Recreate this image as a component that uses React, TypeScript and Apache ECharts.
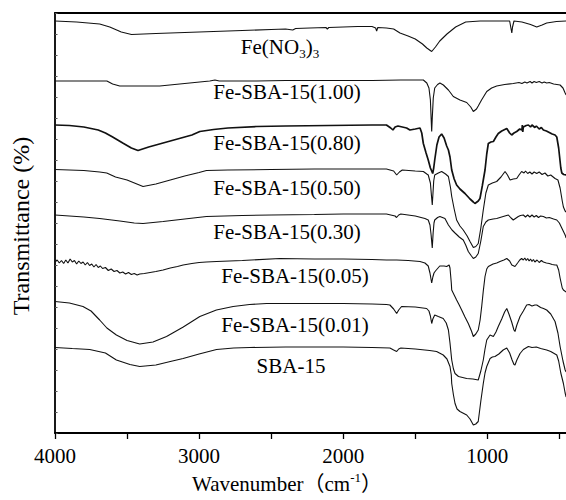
import React, { useEffect, useRef } from "react";
import * as echarts from "echarts";

const FONT = "'Liberation Serif', 'Times New Roman', serif";
const FONT_CJK = "'Liberation Serif', 'Noto Sans CJK SC', serif";

// axis ticks (wavenumber, cm-1)
const xTickLabels = [4000, 3000, 2000, 1000];
const xTicks = [4000, 3500, 3000, 2500, 2000, 1500, 1000, 500];

const seriesNames = [
  "Fe(NO3)3",
  "Fe-SBA-15(1.00)",
  "Fe-SBA-15(0.80)",
  "Fe-SBA-15(0.50)",
  "Fe-SBA-15(0.30)",
  "Fe-SBA-15(0.05)",
  "Fe-SBA-15(0.01)",
  "SBA-15",
];

// [wavenumber, transmittance (offset, arbitrary units)]
const feNO3 = [
  [4000, 412], [3850, 411], [3690, 409], [3620, 406], [3540, 401], [3469, 398.5], [3300, 399.5],
  [3100, 400.5], [2900, 401.5], [2700, 402.5], [2500, 403.5], [2400, 404], [2350, 403], [2330, 404.5],
  [2231, 405], [2120, 405.5], [2110, 404], [2100, 405.5], [1900, 406.5], [1800, 406.5], [1775, 405],
  [1768, 402], [1760, 405.5], [1700, 405], [1650, 404], [1606, 400], [1550, 397], [1500, 394],
  [1450, 389], [1420, 385], [1386, 381.5], [1360, 386], [1330, 392], [1280, 399], [1220, 406],
  [1150, 411], [1050, 412], [900, 412], [845, 412], [835, 404], [830, 400], [825, 406], [815, 412],
  [760, 411], [700, 408.5], [657, 406], [620, 408], [588, 410], [520, 411.5], [453, 412],
];

const fe100 = [
  [4000, 352], [3800, 352], [3640, 352], [3600, 349], [3551, 347], [3400, 347], [3273, 347],
  [3100, 349.5], [2926, 352], [2890, 353], [2860, 352], [2600, 352], [2400, 352.5], [2000, 352.5],
  [1800, 352.5], [1600, 353], [1444, 353], [1420, 350], [1405, 345], [1395, 333], [1390, 315],
  [1386, 301.5], [1382, 315], [1375, 335], [1365, 345], [1345, 348.5], [1329, 350], [1305, 348],
  [1270, 343], [1236, 336.5], [1190, 333], [1143, 330.5], [1115, 326], [1097, 321.5], [1075, 324],
  [1063, 327], [1040, 333], [1004, 341.5], [970, 345], [935, 347], [880, 348.5], [820, 349.5],
  [780, 350.5], [760, 349.5], [740, 351], [725, 350], [703, 351.5], [690, 350], [675, 351.5],
  [660, 350.5], [640, 351.5], [620, 350], [605, 351], [588, 350], [570, 350.5], [540, 349],
  [495, 348], [475, 345], [460, 340], [453, 338],
];

const fe080 = [
  [4000, 308], [3900, 307.5], [3800, 306], [3700, 303], [3650, 300], [3600, 296], [3530, 290],
  [3470, 285], [3424, 282.5], [3350, 286], [3250, 290], [3150, 294], [3050, 298], [2995, 301.5],
  [2900, 303.5], [2800, 305], [2600, 306.5], [2400, 307], [2100, 307.5], [1800, 308], [1700, 308],
  [1670, 305], [1655, 303], [1640, 306], [1620, 307], [1560, 305], [1537, 303], [1500, 304],
  [1467, 305], [1455, 300], [1444, 289.5], [1425, 280], [1410, 273], [1395, 265], [1386, 262],
  [1379, 259.5], [1372, 265], [1365, 273], [1350, 288], [1335, 296], [1317, 299], [1300, 295],
  [1282, 287], [1270, 283], [1259, 276], [1247, 263], [1230, 254], [1213, 248], [1190, 244],
  [1155, 239.5], [1120, 234], [1097, 231], [1086, 229.5], [1063, 232], [1051, 234.5], [1035, 247],
  [1016, 263], [1004, 279], [993, 289.5], [975, 291], [958, 291.5], [940, 296], [924, 299.5],
  [900, 302], [865, 304.5], [845, 300], [831, 298], [815, 300], [796, 301.5], [775, 304],
  [760, 303], [757, 308], [754, 301], [750, 306], [730, 307.5], [715, 308], [700, 306],
  [690, 308], [670, 305.5], [660, 307], [640, 304], [625, 305.5], [611, 303], [590, 302],
  [570, 300.5], [550, 299], [530, 298], [518, 296], [505, 285], [490, 265], [483, 260],
  [470, 258.5], [453, 258],
];

const fe050 = [
  [4000, 263.5], [3900, 263], [3800, 262.5], [3690, 261], [3641, 260], [3580, 256], [3500, 253],
  [3389, 246.5], [3300, 249], [3200, 253], [3100, 257], [3000, 260.5], [2949, 262.5], [2800, 263],
  [2500, 263.5], [2200, 264], [2000, 264], [1800, 264], [1700, 264], [1650, 262], [1629, 258],
  [1610, 261], [1590, 263], [1500, 262], [1444, 261.5], [1420, 259], [1410, 258], [1395, 250],
  [1388, 238], [1382, 228], [1377, 240], [1372, 252], [1365, 258], [1340, 260], [1317, 261.5],
  [1290, 259], [1270, 256.5], [1255, 245], [1247, 236.5], [1230, 224], [1213, 213], [1190, 207],
  [1167, 203], [1140, 197], [1120, 191.5], [1097, 185.5], [1080, 186.5], [1063, 189.5], [1045, 205],
  [1028, 223], [1010, 240], [993, 248], [965, 250], [935, 251.5], [905, 256], [877, 261.5],
  [860, 258], [842, 253], [820, 254], [796, 254.5], [780, 258], [762, 261.5], [745, 260],
  [735, 262], [720, 259.5], [705, 261], [690, 259], [675, 261], [657, 259.5], [640, 261],
  [620, 258.5], [600, 260], [580, 257], [560, 258], [530, 254.5], [510, 253], [495, 245],
  [480, 232], [472, 226], [460, 222], [453, 221],
];

const fe030 = [
  [4000, 218], [3900, 217], [3800, 216], [3690, 214.5], [3550, 212], [3450, 210], [3389, 209.5],
  [3250, 211.5], [3100, 214], [2949, 216.5], [2700, 217.5], [2500, 218], [2200, 218.5], [2000, 219],
  [1800, 219], [1700, 219], [1640, 217], [1630, 215.5], [1615, 218], [1600, 219], [1500, 217],
  [1433, 214.5], [1410, 213], [1398, 208], [1390, 198], [1382, 185], [1376, 200], [1370, 210],
  [1365, 213], [1345, 215.5], [1329, 216.5], [1294, 214.5], [1270, 208], [1245, 203], [1224, 200],
  [1195, 196], [1167, 193], [1150, 188], [1132, 181.5], [1110, 177], [1097, 174.5], [1080, 176],
  [1063, 179.5], [1045, 192], [1028, 206.5], [1010, 211], [993, 213], [960, 214], [935, 214.5],
  [890, 216.5], [854, 218], [835, 215], [820, 213], [800, 215], [785, 216.5], [770, 217.5],
  [750, 218], [735, 216], [720, 218], [705, 216], [690, 218], [675, 216], [660, 217.5],
  [645, 215.5], [630, 217], [611, 216.5], [590, 215], [570, 215.5], [540, 214], [518, 213],
  [500, 210], [480, 204], [460, 198], [453, 195],
];

const fe005 = [
  [4000, 171], [3985, 173], [3970, 170], [3955, 172.5], [3940, 169.5], [3925, 173], [3910, 170],
  [3895, 174], [3880, 171], [3865, 172.5], [3850, 169], [3835, 172], [3820, 169.5], [3805, 171],
  [3790, 168], [3775, 170.5], [3760, 167.5], [3745, 169], [3730, 166], [3715, 168.5], [3700, 165.5],
  [3685, 167], [3670, 164.5], [3650, 165.5], [3630, 162.5], [3610, 164], [3590, 161.5], [3570, 162.5],
  [3550, 160], [3530, 161], [3510, 159], [3490, 160.5], [3470, 158.5], [3450, 159.5], [3430, 158],
  [3412, 159], [3380, 159.5], [3340, 160.5], [3300, 161.5], [3250, 163], [3200, 165], [3150, 166.5],
  [3111, 168], [3050, 169.5], [3000, 170.5], [2950, 171], [2879, 171.5], [2700, 172.5], [2440, 174.5],
  [2200, 174], [2000, 174], [1800, 173.5], [1700, 173], [1629, 173], [1550, 172.5], [1467, 171.5],
  [1433, 170], [1410, 167], [1398, 160], [1386, 150], [1378, 156], [1370, 160], [1360, 162],
  [1330, 167], [1300, 167], [1282, 166.5], [1265, 168], [1259, 165], [1250, 150], [1247, 143],
  [1230, 138], [1213, 133], [1195, 128], [1178, 123], [1155, 116], [1132, 109.5], [1110, 102],
  [1097, 96.5], [1080, 99], [1063, 103], [1050, 113], [1039, 126.5], [1028, 142], [1016, 156.5],
  [1004, 164], [993, 166.5], [960, 169], [935, 170], [912, 171.5], [885, 173], [865, 174.5],
  [845, 172], [830, 168], [808, 166.5], [790, 170], [775, 173], [762, 174.5], [750, 173],
  [740, 175], [730, 172.5], [720, 174.5], [710, 172], [700, 174], [690, 171.5], [680, 173.5],
  [670, 171], [655, 173], [640, 170.5], [625, 172.5], [611, 171], [590, 170], [570, 169.5],
  [550, 168.5], [530, 168], [518, 168], [505, 163], [495, 155], [480, 145], [472, 143], [453, 141],
];

const fe001 = [
  [4000, 131.5], [3900, 130], [3806, 126.5], [3750, 122], [3690, 113], [3640, 105], [3574, 98],
  [3500, 92.5], [3412, 89], [3320, 91], [3226, 96.5], [3110, 106], [2995, 116.5], [2880, 123],
  [2764, 126.5], [2650, 128.5], [2532, 129.5], [2254, 129.5], [2000, 129.5], [1800, 129], [1700, 128.5],
  [1676, 128], [1650, 124], [1629, 119.5], [1615, 123], [1595, 126.5], [1500, 126], [1421, 124.5],
  [1405, 122], [1395, 117], [1386, 109.5], [1378, 114], [1365, 118], [1340, 116.5], [1306, 114.5],
  [1285, 110], [1270, 103], [1259, 90], [1247, 73], [1235, 64], [1224, 59.5], [1200, 56.5],
  [1143, 54.5], [1100, 54], [1063, 53], [1045, 62], [1028, 73], [1016, 84], [1004, 93],
  [981, 98], [958, 96.5], [940, 101], [924, 106.5], [900, 114], [880, 121], [865, 124.5],
  [850, 119], [831, 111], [815, 103], [808, 101.5], [795, 108], [773, 116.5], [750, 122],
  [727, 128], [710, 128.5], [690, 127], [670, 128], [657, 128], [630, 125.5], [610, 124.5],
  [588, 123], [560, 119], [530, 111.5], [510, 100], [495, 86.5], [475, 72], [460, 63], [453, 61],
];

const sba15 = [
  [4000, 85.5], [3880, 84.5], [3759, 83.5], [3650, 80], [3574, 73], [3480, 68.5], [3412, 66.5],
  [3300, 68], [3200, 71.5], [3111, 74.5], [3000, 79], [2879, 83.5], [2760, 85], [2648, 85.5],
  [2400, 86], [2000, 86], [1800, 85.5], [1676, 85], [1650, 83], [1629, 81.5], [1615, 84],
  [1600, 85], [1500, 84], [1400, 82.5], [1352, 81.5], [1306, 78], [1280, 74], [1259, 66.5],
  [1250, 58], [1247, 49.5], [1235, 38], [1224, 29.5], [1210, 24], [1190, 21.5], [1143, 18],
  [1120, 14], [1097, 8], [1080, 9], [1063, 11.5], [1045, 32], [1028, 49.5], [1016, 60],
  [1004, 66.5], [981, 74.5], [965, 76], [947, 76.5], [920, 79], [890, 83], [865, 85],
  [845, 80], [828, 73], [815, 68.5], [808, 68], [795, 73], [773, 79.5], [750, 83.5],
  [715, 86.5], [690, 85.5], [660, 86], [630, 84.5], [588, 83], [560, 81.5], [530, 79],
  [518, 78], [505, 72], [490, 60], [472, 49.5], [460, 40], [453, 36],
];

const seriesData = [feNO3, fe100, fe080, fe050, fe030, fe005, fe001, sba15];

function textWidth(text: string, size: number, family: string) {
  const t = new echarts.graphic.Text({ style: { text, fontSize: size, fontFamily: family } });
  return t.getBoundingRect().width;
}

function txt(text: string, x: number, y: number, size: number, family: string, align: string, extra: any = {}) {
  return {
    type: "text",
    x,
    y,
    silent: true,
    ...extra,
    style: {
      text,
      fontSize: size,
      fontFamily: family,
      fill: "#000000",
      align,
      textAlign: align,
      verticalAlign: "middle",
      textVerticalAlign: "middle",
    },
  };
}

// composite text made of pieces laid out left to right, centred on cx
function pieces(parts: { t: string; size: number; dy: number; family: string }[], cx: number, cy: number) {
  const widths = parts.map((p) => textWidth(p.t, p.size, p.family));
  const total = widths.reduce((a, b) => a + b, 0);
  let x = cx - total / 2;
  const out: any[] = [];
  parts.forEach((p, i) => {
    out.push(txt(p.t, x, cy + p.dy, p.size, p.family, "left"));
    x += widths[i];
  });
  return out;
}

export default function App() {
  const ref = useRef<HTMLDivElement>(null);
  useEffect(() => {
    if (!ref.current) return;
    const chart = echarts.init(ref.current, undefined, { renderer: "svg" });

    const labelPos = [
      [280, 46.5],
      [287, 92],
      [287, 143],
      [287, 188],
      [287, 232],
      [295, 276],
      [295, 325],
      [291, 366],
    ];

    const graphic: any[] = [];
    // Fe(NO3)3 with subscripts
    graphic.push(
      ...pieces(
        [
          { t: "Fe(NO", size: 21, dy: 0, family: FONT },
          { t: "3", size: 13, dy: 7, family: FONT },
          { t: ")", size: 21, dy: 0, family: FONT },
          { t: "3", size: 13, dy: 7, family: FONT },
        ],
        labelPos[0][0],
        labelPos[0][1]
      )
    );
    for (let i = 1; i < seriesNames.length; i++) {
      graphic.push(txt(seriesNames[i], labelPos[i][0], labelPos[i][1], 21, FONT, "center"));
    }
    // x axis title
    graphic.push(
      ...pieces(
        [
          { t: "Wavenumber（cm", size: 21, dy: 0, family: FONT_CJK },
          { t: "-1", size: 13, dy: -7, family: FONT },
          { t: "）", size: 21, dy: 0, family: FONT_CJK },
        ],
        287,
        484
      )
    );
    // y axis title
    graphic.push(txt("Transmittance (%)", 21, 226, 24, FONT, "center", { rotation: Math.PI / 2 }));

    const axisLineStyle = { color: "#000", width: 1.8 };

    chart.setOption({
      animation: false,
      backgroundColor: "#fff",
      grid: { left: 55, right: 0, top: 13, bottom: 67 },
      xAxis: [
        {
          type: "value",
          min: 454,
          max: 4000,
          inverse: true,
          position: "bottom",
          axisLine: { show: true, onZero: false, lineStyle: axisLineStyle },
          axisTick: { show: true, inside: false, length: 6, customValues: xTicks, lineStyle: { color: "#000", width: 1.3 } },
          axisLabel: {
            show: true,
            customValues: xTickLabels,
            formatter: (v: number) => String(v),
            fontSize: 21,
            fontFamily: FONT,
            color: "#000",
            margin: 12,
          },
          splitLine: { show: false },
        },
        {
          type: "value",
          min: 454,
          max: 4000,
          inverse: true,
          position: "top",
          axisLine: { show: true, onZero: false, lineStyle: axisLineStyle },
          axisTick: { show: false },
          axisLabel: { show: false },
          splitLine: { show: false },
        },
      ],
      yAxis: {
        type: "value",
        min: 0,
        max: 420,
        interval: 21,
        axisLine: { show: true, onZero: false, lineStyle: axisLineStyle },
        axisTick: { show: true, inside: true, length: 2.5, lineStyle: { color: "#555", width: 1 } },
        axisLabel: { show: false },
        splitLine: { show: false },
      },
      series: seriesData.map((d, i) => ({
        name: seriesNames[i],
        type: "line",
        xAxisIndex: 0,
        data: d,
        symbol: "none",
        showSymbol: false,
        silent: true,
        lineStyle: { color: "#111", width: i === 2 ? 1.7 : 1.1 },
      })),
      graphic,
    });
    return () => chart.dispose();
  }, []);
  return (
    <div
      ref={ref}
      style={{ position: "fixed", left: 0, top: 0, width: 566, height: 500, background: "#fff" }}
    />
  );
}
